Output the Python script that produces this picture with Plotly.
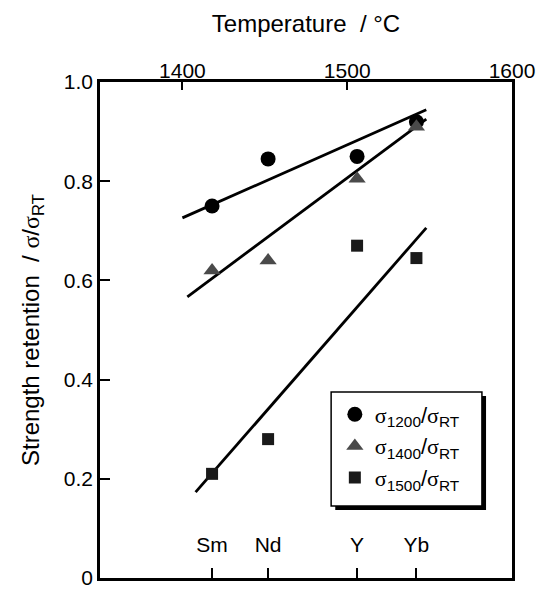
import plotly.graph_objects as go

# ---- data ----
elements = ["Sm", "Nd", "Y", "Yb"]
temps = [1418, 1452, 1506, 1542]          # temperature (°C) of each additive
s1200 = [0.75, 0.845, 0.85, 0.92]
s1400 = [0.62, 0.64, 0.805, 0.91]
s1500 = [0.21, 0.28, 0.67, 0.645]

fit1200_x = [1400, 1548]
fit1200_y = [0.726, 0.944]
fit1400_x = [1403, 1548]
fit1400_y = [0.567, 0.925]
fit1500_x = [1408, 1548]
fit1500_y = [0.173, 0.706]

top_ticks = [1400, 1500, 1600]
y_ticks = [0, 0.2, 0.4, 0.6, 0.8, 1.0]
y_ticktext = ["0", "0.2", "0.4", "0.6", "0.8", "1.0"]

FONT = "Liberation Sans, Arial, Helvetica, sans-serif"
SIG = '<span style="font-family:Liberation Serif, Times New Roman, serif">σ</span>'

fig = go.Figure()

for fx, fy in [(fit1200_x, fit1200_y), (fit1400_x, fit1400_y), (fit1500_x, fit1500_y)]:
    fig.add_trace(go.Scatter(x=fx, y=fy, mode="lines", showlegend=False,
                             line=dict(color="black", width=2.8), hoverinfo="skip"))

fig.add_trace(go.Scatter(x=temps, y=s1200, mode="markers",
                         name=f"{SIG}<sub>1200</sub>/{SIG}<sub>RT</sub>",
                         marker=dict(symbol="circle", size=15, color="black")))
fig.add_trace(go.Scatter(x=temps, y=s1400, mode="markers",
                         name=f"{SIG}<sub>1400</sub>/{SIG}<sub>RT</sub>",
                         marker=dict(symbol="triangle-up", size=15, color="#4a4a4a")))
fig.add_trace(go.Scatter(x=temps, y=s1500, mode="markers",
                         name=f"{SIG}<sub>1500</sub>/{SIG}<sub>RT</sub>",
                         marker=dict(symbol="square", size=12, color="#1a1a1a")))

# invisible trace to activate the top axis
fig.add_trace(go.Scatter(x=[1350, 1600], y=[0, 0], xaxis="x2", mode="markers",
                         marker=dict(opacity=0), showlegend=False, hoverinfo="skip"))

# legend frame with drop shadow (paper coords)
fig.add_shape(type="rect", xref="paper", yref="paper", x0=0.571, x1=0.937, y0=0.137, y1=0.367,
              fillcolor="black", line=dict(width=0), layer="below")
fig.add_shape(type="rect", xref="paper", yref="paper", x0=0.561, x1=0.927, y0=0.145, y1=0.375,
              fillcolor="white", line=dict(color="black", width=1.5), layer="below")

fig.update_layout(
    width=545, height=590,
    margin=dict(l=100, r=33, t=82, b=12),
    paper_bgcolor="white", plot_bgcolor="rgba(0,0,0,0)",
    font=dict(family=FONT, size=21, color="black"),
    showlegend=True,
    legend=dict(x=0.570, y=0.372, xanchor="left", yanchor="top",
                bgcolor="rgba(0,0,0,0)", borderwidth=0,
                font=dict(size=22, color="black"), itemwidth=30, tracegroupgap=0),
    xaxis=dict(range=[1350, 1600], tickmode="array", tickvals=temps, ticktext=elements,
               ticks="inside", ticklen=10, tickwidth=2, tickcolor="black",
               ticklabelposition="outside", ticklabelstandoff=-54, automargin=False,
               showline=True, linewidth=2.5, linecolor="black", mirror=False,
               showgrid=False, zeroline=False, tickfont=dict(size=21, color="black")),
    xaxis2=dict(range=[1350, 1600], overlaying="x", side="top", anchor="y",
                tickmode="array", tickvals=top_ticks, automargin=False,
                ticks="inside", ticklen=8, tickwidth=2, tickcolor="black",
                ticklabelstandoff=-7,
                showline=True, linewidth=2.5, linecolor="black",
                showgrid=False, zeroline=False, tickfont=dict(size=21, color="black"),
                title=dict(text="Temperature  / °C", font=dict(size=24), standoff=20)),
    yaxis=dict(range=[0, 1], tickmode="array", tickvals=y_ticks, ticktext=y_ticktext,
               ticks="inside", ticklen=10, tickwidth=2, tickcolor="black",
               showline=True, linewidth=2.5, linecolor="black", mirror=True,
               showgrid=False, zeroline=False, tickfont=dict(size=21, color="black"),
               automargin=False,
               title=dict(text=f"Strength retention  / {SIG}/{SIG}<sub>RT</sub>",
                          font=dict(size=24), standoff=18)),
)

fig.write_html("out.html")
